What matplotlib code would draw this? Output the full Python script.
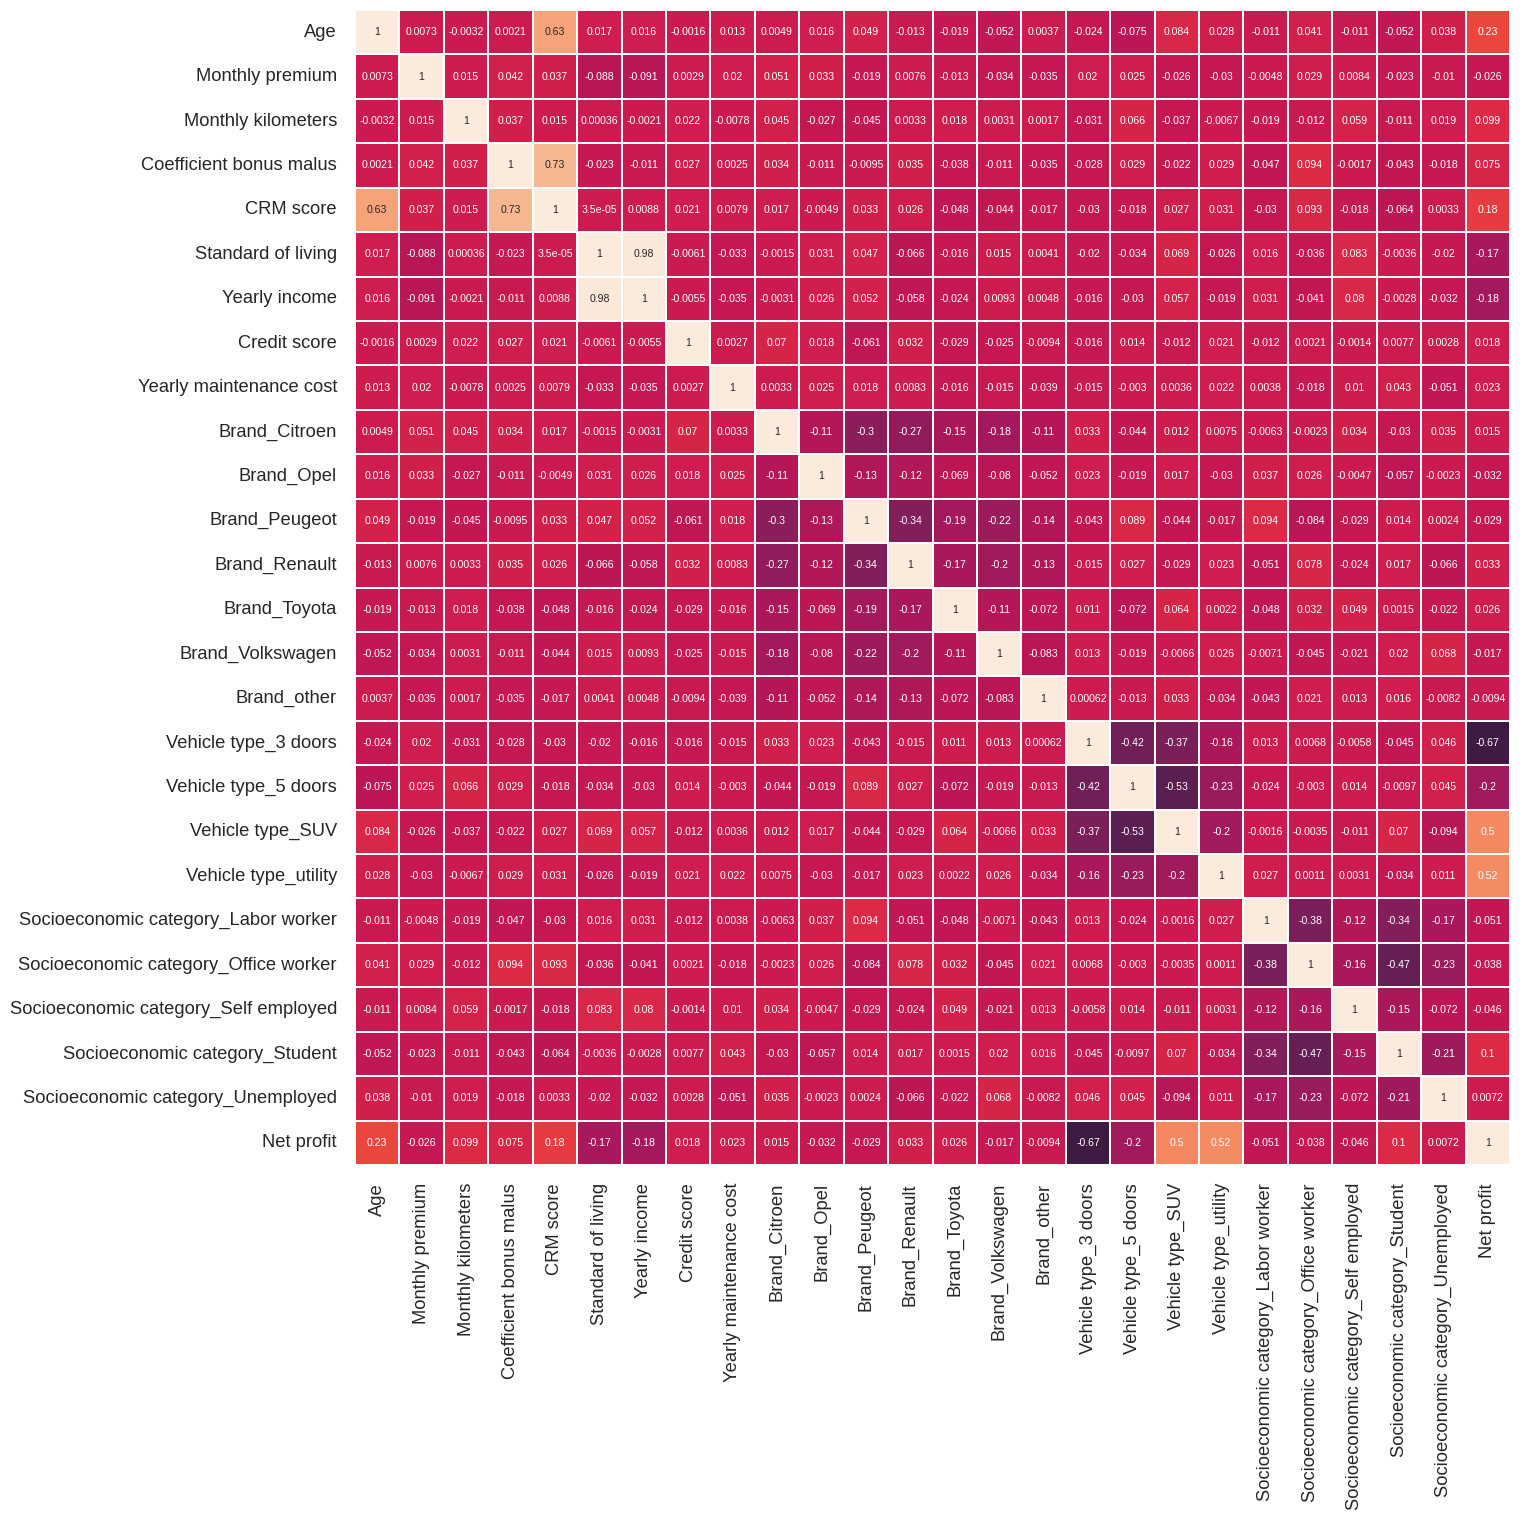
import numpy as np
import pandas as pd
import matplotlib
matplotlib.use("Agg")
import matplotlib.pyplot as plt
import seaborn as sns

labels = ["Age", "Monthly premium", "Monthly kilometers", "Coefficient bonus malus",
          "CRM score", "Standard of living", "Yearly income", "Credit score",
          "Yearly maintenance cost", "Brand_Citroen", "Brand_Opel", "Brand_Peugeot",
          "Brand_Renault", "Brand_Toyota", "Brand_Volkswagen", "Brand_other",
          "Vehicle type_3 doors", "Vehicle type_5 doors", "Vehicle type_SUV",
          "Vehicle type_utility", "Socioeconomic category_Labor worker",
          "Socioeconomic category_Office worker", "Socioeconomic category_Self employed",
          "Socioeconomic category_Student", "Socioeconomic category_Unemployed", "Net profit"]

corr_rows = [
    [1, 0.0073, -0.0032, 0.0021, 0.63, 0.017, 0.016, -0.0016, 0.013, 0.0049, 0.016, 0.049, -0.013, -0.019, -0.052, 0.0037, -0.024, -0.075, 0.084, 0.028, -0.011, 0.041, -0.011, -0.052, 0.038, 0.23],
    [0.0073, 1, 0.015, 0.042, 0.037, -0.088, -0.091, 0.0029, 0.02, 0.051, 0.033, -0.019, 0.0076, -0.013, -0.034, -0.035, 0.02, 0.025, -0.026, -0.03, -0.0048, 0.029, 0.0084, -0.023, -0.01, -0.026],
    [-0.0032, 0.015, 1, 0.037, 0.015, 0.00036, -0.0021, 0.022, -0.0078, 0.045, -0.027, -0.045, 0.0033, 0.018, 0.0031, 0.0017, -0.031, 0.066, -0.037, -0.0067, -0.019, -0.012, 0.059, -0.011, 0.019, 0.099],
    [0.0021, 0.042, 0.037, 1, 0.73, -0.023, -0.011, 0.027, 0.0025, 0.034, -0.011, -0.0095, 0.035, -0.038, -0.011, -0.035, -0.028, 0.029, -0.022, 0.029, -0.047, 0.094, -0.0017, -0.043, -0.018, 0.075],
    [0.63, 0.037, 0.015, 0.73, 1, 3.5e-05, 0.0088, 0.021, 0.0079, 0.017, -0.0049, 0.033, 0.026, -0.048, -0.044, -0.017, -0.03, -0.018, 0.027, 0.031, -0.03, 0.093, -0.018, -0.064, 0.0033, 0.18],
    [0.017, -0.088, 0.00036, -0.023, 3.5e-05, 1, 0.98, -0.0061, -0.033, -0.0015, 0.031, 0.047, -0.066, -0.016, 0.015, 0.0041, -0.02, -0.034, 0.069, -0.026, 0.016, -0.036, 0.083, -0.0036, -0.02, -0.17],
    [0.016, -0.091, -0.0021, -0.011, 0.0088, 0.98, 1, -0.0055, -0.035, -0.0031, 0.026, 0.052, -0.058, -0.024, 0.0093, 0.0048, -0.016, -0.03, 0.057, -0.019, 0.031, -0.041, 0.08, -0.0028, -0.032, -0.18],
    [-0.0016, 0.0029, 0.022, 0.027, 0.021, -0.0061, -0.0055, 1, 0.0027, 0.07, 0.018, -0.061, 0.032, -0.029, -0.025, -0.0094, -0.016, 0.014, -0.012, 0.021, -0.012, 0.0021, -0.0014, 0.0077, 0.0028, 0.018],
    [0.013, 0.02, -0.0078, 0.0025, 0.0079, -0.033, -0.035, 0.0027, 1, 0.0033, 0.025, 0.018, 0.0083, -0.016, -0.015, -0.039, -0.015, -0.003, 0.0036, 0.022, 0.0038, -0.018, 0.01, 0.043, -0.051, 0.023],
    [0.0049, 0.051, 0.045, 0.034, 0.017, -0.0015, -0.0031, 0.07, 0.0033, 1, -0.11, -0.3, -0.27, -0.15, -0.18, -0.11, 0.033, -0.044, 0.012, 0.0075, -0.0063, -0.0023, 0.034, -0.03, 0.035, 0.015],
    [0.016, 0.033, -0.027, -0.011, -0.0049, 0.031, 0.026, 0.018, 0.025, -0.11, 1, -0.13, -0.12, -0.069, -0.08, -0.052, 0.023, -0.019, 0.017, -0.03, 0.037, 0.026, -0.0047, -0.057, -0.0023, -0.032],
    [0.049, -0.019, -0.045, -0.0095, 0.033, 0.047, 0.052, -0.061, 0.018, -0.3, -0.13, 1, -0.34, -0.19, -0.22, -0.14, -0.043, 0.089, -0.044, -0.017, 0.094, -0.084, -0.029, 0.014, 0.0024, -0.029],
    [-0.013, 0.0076, 0.0033, 0.035, 0.026, -0.066, -0.058, 0.032, 0.0083, -0.27, -0.12, -0.34, 1, -0.17, -0.2, -0.13, -0.015, 0.027, -0.029, 0.023, -0.051, 0.078, -0.024, 0.017, -0.066, 0.033],
    [-0.019, -0.013, 0.018, -0.038, -0.048, -0.016, -0.024, -0.029, -0.016, -0.15, -0.069, -0.19, -0.17, 1, -0.11, -0.072, 0.011, -0.072, 0.064, 0.0022, -0.048, 0.032, 0.049, 0.0015, -0.022, 0.026],
    [-0.052, -0.034, 0.0031, -0.011, -0.044, 0.015, 0.0093, -0.025, -0.015, -0.18, -0.08, -0.22, -0.2, -0.11, 1, -0.083, 0.013, -0.019, -0.0066, 0.026, -0.0071, -0.045, -0.021, 0.02, 0.068, -0.017],
    [0.0037, -0.035, 0.0017, -0.035, -0.017, 0.0041, 0.0048, -0.0094, -0.039, -0.11, -0.052, -0.14, -0.13, -0.072, -0.083, 1, 0.00062, -0.013, 0.033, -0.034, -0.043, 0.021, 0.013, 0.016, -0.0082, -0.0094],
    [-0.024, 0.02, -0.031, -0.028, -0.03, -0.02, -0.016, -0.016, -0.015, 0.033, 0.023, -0.043, -0.015, 0.011, 0.013, 0.00062, 1, -0.42, -0.37, -0.16, 0.013, 0.0068, -0.0058, -0.045, 0.046, -0.67],
    [-0.075, 0.025, 0.066, 0.029, -0.018, -0.034, -0.03, 0.014, -0.003, -0.044, -0.019, 0.089, 0.027, -0.072, -0.019, -0.013, -0.42, 1, -0.53, -0.23, -0.024, -0.003, 0.014, -0.0097, 0.045, -0.2],
    [0.084, -0.026, -0.037, -0.022, 0.027, 0.069, 0.057, -0.012, 0.0036, 0.012, 0.017, -0.044, -0.029, 0.064, -0.0066, 0.033, -0.37, -0.53, 1, -0.2, -0.0016, -0.0035, -0.011, 0.07, -0.094, 0.5],
    [0.028, -0.03, -0.0067, 0.029, 0.031, -0.026, -0.019, 0.021, 0.022, 0.0075, -0.03, -0.017, 0.023, 0.0022, 0.026, -0.034, -0.16, -0.23, -0.2, 1, 0.027, 0.0011, 0.0031, -0.034, 0.011, 0.52],
    [-0.011, -0.0048, -0.019, -0.047, -0.03, 0.016, 0.031, -0.012, 0.0038, -0.0063, 0.037, 0.094, -0.051, -0.048, -0.0071, -0.043, 0.013, -0.024, -0.0016, 0.027, 1, -0.38, -0.12, -0.34, -0.17, -0.051],
    [0.041, 0.029, -0.012, 0.094, 0.093, -0.036, -0.041, 0.0021, -0.018, -0.0023, 0.026, -0.084, 0.078, 0.032, -0.045, 0.021, 0.0068, -0.003, -0.0035, 0.0011, -0.38, 1, -0.16, -0.47, -0.23, -0.038],
    [-0.011, 0.0084, 0.059, -0.0017, -0.018, 0.083, 0.08, -0.0014, 0.01, 0.034, -0.0047, -0.029, -0.024, 0.049, -0.021, 0.013, -0.0058, 0.014, -0.011, 0.0031, -0.12, -0.16, 1, -0.15, -0.072, -0.046],
    [-0.052, -0.023, -0.011, -0.043, -0.064, -0.0036, -0.0028, 0.0077, 0.043, -0.03, -0.057, 0.014, 0.017, 0.0015, 0.02, 0.016, -0.045, -0.0097, 0.07, -0.034, -0.34, -0.47, -0.15, 1, -0.21, 0.1],
    [0.038, -0.01, 0.019, -0.018, 0.0033, -0.02, -0.032, 0.0028, -0.051, 0.035, -0.0023, 0.0024, -0.066, -0.022, 0.068, -0.0082, 0.046, 0.045, -0.094, 0.011, -0.17, -0.23, -0.072, -0.21, 1, 0.0072],
    [0.23, -0.026, 0.099, 0.075, 0.18, -0.17, -0.18, 0.018, 0.023, 0.015, -0.032, -0.029, 0.033, 0.026, -0.017, -0.0094, -0.67, -0.2, 0.5, 0.52, -0.051, -0.038, -0.046, 0.1, 0.0072, 1],
]

sns.set_theme(style="white")
plt.rcParams["font.family"] = ["Liberation Sans", "DejaVu Sans"]

corr = pd.DataFrame(np.array(corr_rows, dtype=float), index=labels, columns=labels)

fig = plt.figure(figsize=(15.2, 15.2), dpi=100)
ax = fig.add_axes([355 / 1520, 1 - 1165 / 1520, 1155 / 1520, 1155 / 1520])
sns.heatmap(corr, annot=True, fmt=".2g", cmap="rocket", vmin=-1, vmax=1,
            linewidths=1.4, linecolor="white",
            cbar=False, square=True, ax=ax, annot_kws={"fontsize": 7.6})
ax.tick_params(axis="both", length=0, pad=13, labelsize=13.2, colors=".15")
ax.set_xticklabels(labels, rotation=90)
ax.set_yticklabels(labels, rotation=0)
ax.set_xlabel("")
ax.set_ylabel("")

fig.savefig("out.png", dpi=100)
